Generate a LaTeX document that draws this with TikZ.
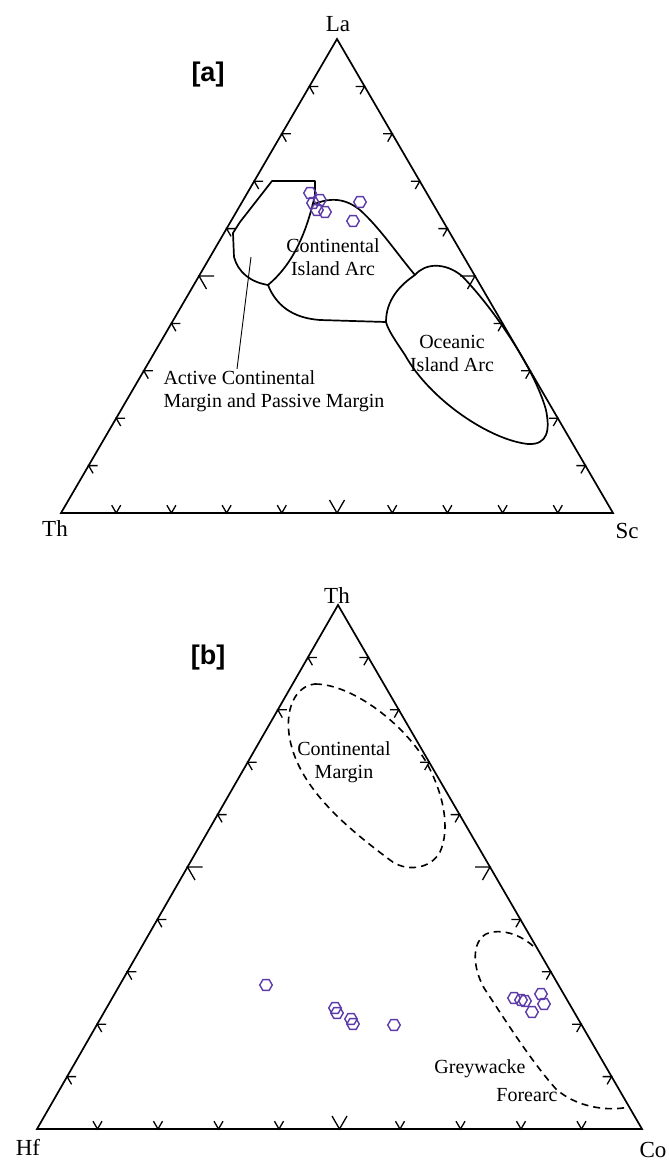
\documentclass[tikz,border=0pt]{standalone}
\usepackage{fontspec}
\setmainfont{Liberation Serif}
\setsansfont{Liberation Sans}
\usetikzlibrary{calc,shapes.geometric}
\definecolor{ptcol}{RGB}{92,58,168}
\tikzset{
  edge/.style={line width=1.7pt, line join=miter},
  tickmark/.style={line width=1.3pt},
  region/.style={line width=1.7pt, line join=round},
  dregion/.style={line width=1.6pt, dash pattern=on 7pt off 5pt},
  hexpt/.style={regular polygon, regular polygon sides=6, draw=ptcol, line width=1.4pt, minimum size=12.5pt, inner sep=0pt},
  corner/.style={font=\fontsize{23}{25}\selectfont, anchor=base},
  rlabel/.style={font=\fontsize{20}{23}\selectfont, align=center},
  plabel/.style={font=\sffamily\bfseries\fontsize{27}{29}\selectfont}
}
\begin{document}
\begin{tikzpicture}[x=1pt,y=-1pt]
\useasboundingbox (0,0) rectangle (669,1160);
\fill[white] (0,0) rectangle (669,1160);

% ---------------- panel a ----------------
\coordinate (A1) at (61,513);
\coordinate (A2) at (613,513);
\coordinate (A3) at (337,39);
\draw[edge] (A1) -- (A2) -- (A3) -- cycle;
\foreach \t/\l in {0.1/9,0.2/9,0.3/9,0.4/9,0.5/15,0.6/9,0.7/9,0.8/9,0.9/9}{
  \path ($(A1)!\t!(A2)$) coordinate (pb);
  \draw[tickmark] ($(pb)+(-60:\l)$) -- (pb) -- ($(pb)+(-120:\l)$);
  \path ($(A3)!\t!(A1)$) coordinate (pl);
  \draw[tickmark] ($(pl)+(0:\l)$) -- (pl) -- ($(pl)+(60:\l)$);
  \path ($(A3)!\t!(A2)$) coordinate (pr);
  \draw[tickmark] ($(pr)+(180:\l)$) -- (pr) -- ($(pr)+(120:\l)$);
}
\node[corner] (la) at (338,31) {La};
\node[corner] (tha) at (55,536) {Th};
\node[corner] (sc) at (627,538) {Sc};
\node[plabel] (lbla) at (208,75) {[a]};

% Active continental margin field
\draw[region] (272,181) -- (315,181) -- (315,195)
  .. controls (306,235) and (292,265) .. (268,285)
  .. controls (250,282) and (238,272) .. (234,257)
  -- (233,233) -- (240,222) -- cycle;
% Continental island arc field
\draw[region] (312,205) .. controls (330,197) and (345,198) .. (360,210)
  .. controls (380,228) and (398,255) .. (415,275);
\draw[region] (268,285) .. controls (276,305) and (292,318) .. (320,320)
  -- (386,322);
% Oceanic island arc field
\draw[region] (415,275) .. controls (425,263) and (445,262) .. (462,276)
  .. controls (495,310) and (535,370) .. (546,410)
  .. controls (550,430) and (548,445) .. (528,444)
  .. controls (490,440) and (430,400) .. (405,355)
  .. controls (395,340) and (388,330) .. (386,322)
  .. controls (386,300) and (400,285) .. (415,275);
\node[rlabel] (cia) at (333,257) {Continental\\Island Arc};
\node[rlabel] (oia) at (452,353) {Oceanic\\Island Arc};
\node[rlabel, align=left, anchor=north west] (acm) at (160,367) {Active Continental\\Margin and Passive Margin};
\coordinate (leadtop) at (251,257);
\coordinate (leadbot) at (237,369);
\draw[line width=0.9pt] (leadtop) -- (leadbot);

\foreach \x/\y [count=\i] in {310/193,313/203,320/200,317/210,325/212,360/202,353/221}{
  \node[hexpt] (a\i) at (\x,\y) {};
}

% ---------------- panel b ----------------
\coordinate (B1) at (37,1129);
\coordinate (B2) at (642,1129);
\coordinate (B3) at (338,605);
\draw[edge] (B1) -- (B2) -- (B3) -- cycle;
\foreach \t/\l in {0.1/9,0.2/9,0.3/9,0.4/9,0.5/15,0.6/9,0.7/9,0.8/9,0.9/9}{
  \path ($(B1)!\t!(B2)$) coordinate (qb);
  \draw[tickmark] ($(qb)+(-60:\l)$) -- (qb) -- ($(qb)+(-120:\l)$);
  \path ($(B3)!\t!(B1)$) coordinate (ql);
  \draw[tickmark] ($(ql)+(0:\l)$) -- (ql) -- ($(ql)+(60:\l)$);
  \path ($(B3)!\t!(B2)$) coordinate (qr);
  \draw[tickmark] ($(qr)+(180:\l)$) -- (qr) -- ($(qr)+(120:\l)$);
}
\node[corner] (thb) at (337,603) {Th};
\node[corner] (hf) at (28,1155) {Hf};
\node[corner] (co) at (653,1157) {Co};
\node[plabel] (lblb) at (208,658) {[b]};

% Continental margin field
\draw[dregion] (315,684) .. controls (350,684) and (400,720) .. (425,760)
  .. controls (445,795) and (450,830) .. (440,852)
  .. controls (430,870) and (405,872) .. (390,860)
  .. controls (350,830) and (300,790) .. (290,740)
  .. controls (284,710) and (295,686) .. (315,684);
% Greywacke forearc field
\draw[dregion] (533,946) .. controls (520,934) and (500,928) .. (486,934)
  .. controls (472,942) and (472,966) .. (484,988)
  .. controls (500,1012) and (530,1060) .. (556,1089)
  .. controls (575,1106) and (605,1112) .. (629,1107);
\node[rlabel] (cm) at (344,762) {Continental\\Margin};
\node[font=\fontsize{20}{23}\selectfont] (gw) at (480,1069) {Greywacke};
\node[font=\fontsize{20}{23}\selectfont] (fa) at (527,1095) {Forearc};

\foreach \x/\y [count=\i] in {266/985,335/1008,337/1013,351/1019,353/1024,394/1025,514/998,521/1000,525/1001,532/1012,541/994,544/1004}{
  \node[hexpt] (b\i) at (\x,\y) {};
}
\end{tikzpicture}
\end{document}
